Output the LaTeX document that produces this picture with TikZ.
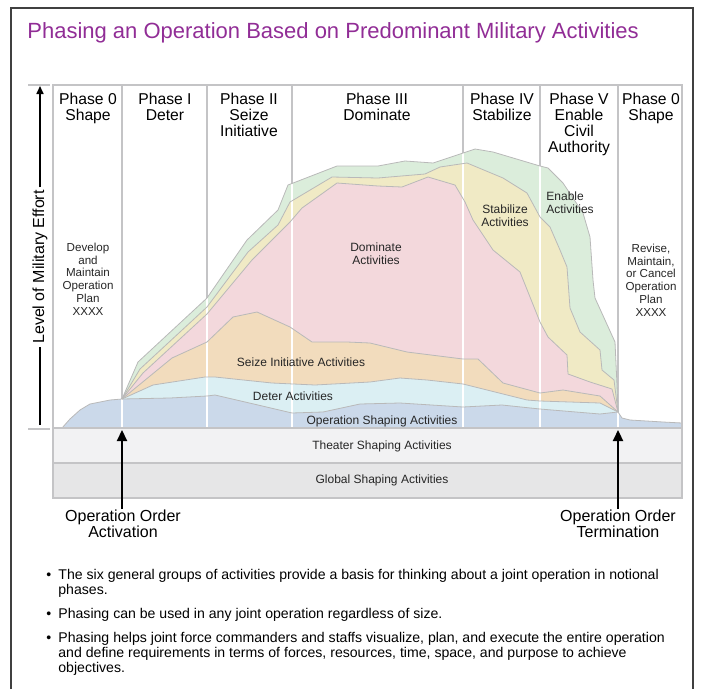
\documentclass[tikz,border=0pt]{standalone}
\usepackage{fontspec}
\setmainfont{Liberation Sans}
\usetikzlibrary{arrows.meta}

\definecolor{titlepurple}{RGB}{145,45,150}
\definecolor{shapec}{RGB}{203,217,234}
\definecolor{deterc}{RGB}{219,239,243}
\definecolor{seizec}{RGB}{242,220,189}
\definecolor{domc}{RGB}{243,216,220}
\definecolor{stabc}{RGB}{240,234,197}
\definecolor{enablec}{RGB}{219,237,219}
\definecolor{theaterc}{RGB}{242,242,243}
\definecolor{globalc}{RGB}{230,230,231}
\definecolor{gridc}{RGB}{196,196,198}
\definecolor{edgec}{RGB}{185,185,185}
\definecolor{framec}{RGB}{64,64,64}

% tops of the activity layers
\newcommand{\enableline}{(122,399) -- (138,362) -- (207,298) -- (247,240) -- (278,210) -- (288,185) -- (337,166) -- (378,166) -- (405,161) -- (433,163) -- (463,153) -- (475,149) -- (493,152) -- (540,166) -- (548,168) -- (563,183) -- (583,213) -- (590,237) -- (593,280) -- (595,298) -- (615,342) -- (617,385) -- (618,412)}
\newcommand{\stabline}{(122,399) -- (140,369) -- (207,307) -- (248,252) -- (278,225) -- (290,202) -- (332,177) -- (378,178) -- (425,174) -- (440,167) -- (467,163) -- (503,178) -- (527,193) -- (540,217) -- (550,227) -- (560,250) -- (567,267) -- (570,308) -- (580,332) -- (600,350) -- (602,370) -- (614,380) -- (618,412)}
\newcommand{\domline}{(122,399) -- (143,373) -- (207,314) -- (252,260) -- (290,222) -- (302,208) -- (337,183) -- (378,186) -- (402,187) -- (428,177) -- (455,185) -- (465,202) -- (473,220) -- (493,250) -- (520,272) -- (540,322) -- (548,337) -- (567,355) -- (568,374) -- (590,382) -- (612,389) -- (618,412)}
\newcommand{\seizeline}{(122,399) -- (172,358) -- (207,342) -- (233,317) -- (257,312) -- (290,327) -- (312,342) -- (347,342) -- (370,343) -- (407,352) -- (463,359) -- (478,359) -- (503,383) -- (540,393) -- (563,390) -- (600,396) -- (618,412)}
\newcommand{\deterline}{(122,399) -- (153,385) -- (205,377) -- (215,377) -- (272,383) -- (315,385) -- (370,382) -- (400,378) -- (427,380) -- (463,384) -- (527,400) -- (540,401) -- (600,403) -- (618,412)}
\newcommand{\shapeline}{(53,428) -- (62,428) -- (70,419) -- (80,410) -- (90,404) -- (110,400) -- (122,399) -- (170,398) -- (207,396) -- (215,395) -- (258,405) -- (292,413) -- (323,412) -- (360,404) -- (400,403) -- (463,407) -- (502,405) -- (540,409) -- (600,414) -- (618,412) -- (622,418) -- (630,420) -- (663,422) -- (682,423)}

\begin{document}
\begin{tikzpicture}[x=1pt, y=-1pt, line width=0.8pt,
    grid/.style={draw=gridc, line width=1.1pt},
    edge/.style={draw=edgec, line width=0.8pt, line join=round},
    phase/.style={anchor=north, inner sep=0pt, align=center, font=\fontsize{15.7}{16}\selectfont},
    lbl/.style={inner sep=0pt, align=center, font=\fontsize{12}{13}\selectfont, text=black!85},
    plan/.style={inner sep=0pt, align=center, font=\fontsize{11.6}{12.8}\selectfont, text=black!85},
    order/.style={anchor=north, inner sep=0pt, align=center, font=\fontsize{16}{16}\selectfont},
    note/.style={anchor=north west, inner sep=0pt, align=left, font=\fontsize{14.1}{15}\selectfont},
    bigarrow/.style={-{Triangle[length=11pt, width=10pt]}, line width=2.3pt}]
  \useasboundingbox (0,0) rectangle (704,689);

  % Frame
  \draw[framec, line width=1.6pt] (11,689) -- (11,8) -- (693,8) -- (693,689);

  % Title
  \node[anchor=west, inner sep=0pt, text=titlepurple, font=\fontsize{22}{24}\selectfont] (title) at (27,33) {Phasing an Operation Based on Predominant Military Activities};

  % Phase columns
  \draw[grid] (53,85) rectangle (682,428);
  \foreach \x in {122,207,292,463,540,618}
    \draw[grid] (\x,85) -- (\x,428);

  % Activity layers, top one first
  \fill[enablec] \enableline -- (618,428) -- (122,428) -- cycle;
  \fill[stabc] \stabline -- (618,428) -- (122,428) -- cycle;
  \fill[domc] \domline -- (618,428) -- (122,428) -- cycle;
  \fill[seizec] \seizeline -- (618,428) -- (122,428) -- cycle;
  \fill[deterc] \deterline -- (618,428) -- (122,428) -- cycle;
  \fill[shapec] \shapeline -- (682,428) -- cycle;

  % Phase lines show white through the layers
  \foreach \x/\y in {122/399, 207/298, 292/184, 463/153, 540/166, 618/412}
    \draw[white, line width=1.2pt] (\x,427) -- (\x,\y);

  % Layer edges
  \draw[edge] \enableline;
  \draw[edge] \stabline;
  \draw[edge] \domline;
  \draw[edge] \seizeline;
  \draw[edge] \deterline;
  \draw[edge] \shapeline;
  \draw[grid] (53,85) rectangle (682,428);

  % Shaping bands
  \draw[grid, fill=theaterc] (53,428) rectangle (682,463);
  \draw[grid, fill=globalc] (53,463) rectangle (682,498);

  % Phase headings
  \node[phase] (ph0) at (88,93) {Phase 0\\Shape};
  \node[phase] (ph1) at (165,93) {Phase I\\Deter};
  \node[phase] (ph2) at (249,93) {Phase II\\Seize\\Initiative};
  \node[phase] (ph3) at (377,93) {Phase III\\Dominate};
  \node[phase] (ph4) at (502,93) {Phase IV\\Stabilize};
  \node[phase] (ph5) at (579,93) {Phase V\\Enable\\Civil\\Authority};
  \node[phase] (ph6) at (651,93) {Phase 0\\Shape};

  % Labels in the layers
  \node[plan] (develop) at (88,279) {Develop\\and\\Maintain\\Operation\\Plan\\XXXX};
  \node[plan] (revise) at (651,280) {Revise,\\Maintain,\\or Cancel\\Operation\\Plan\\XXXX};
  \node[lbl] (dominate) at (376,254) {Dominate\\Activities};
  \node[lbl] (stabilize) at (505,216) {Stabilize\\Activities};
  \node[lbl, anchor=west, align=left] (enable) at (546,203) {Enable\\Activities};
  \node[lbl] (seize) at (301,362) {Seize Initiative Activities};
  \node[lbl] (deter) at (293,396) {Deter Activities};
  \node[lbl] (opshape) at (382,421) {Operation Shaping Activities};
  \node[lbl] (theater) at (382,446) {Theater Shaping Activities};
  \node[lbl] (global) at (382,480) {Global Shaping Activities};

  % Vertical axis
  \draw[gridc, line width=1.1pt] (28,85) -- (50,85);
  \draw[gridc, line width=1.1pt] (28,429) -- (50,429);
  \coordinate (axisbot) at (40,425);
  \coordinate (axistop) at (40,86);
  \node[rotate=90, inner sep=2.5pt, font=\fontsize{16}{16}\selectfont] (effort) at (40,267) {Level of Military Effort};
  \draw[line width=1.6pt] (axisbot) -- (effort.west);
  \draw[-{Triangle[length=8pt, width=7pt]}, line width=1.6pt] (effort.east) -- (axistop);

  % Order arrows
  \node[order] (activation) at (123,509) {Operation Order\\Activation};
  \node[order] (termination) at (618,509) {Operation Order\\Termination};
  \coordinate (acttip) at (122,430);
  \coordinate (termtip) at (618,430);
  \draw[bigarrow] (activation.north -| acttip) -- (acttip);
  \draw[bigarrow] (termination.north -| termtip) -- (termtip);

  % Notes
  \node[note] (b1) at (58,569) {\llap{\textbullet\hspace{7pt}}The six general groups of activities provide a basis for thinking about a joint operation in notional\\phases.};
  \node[note] (b2) at (58,608) {\llap{\textbullet\hspace{7pt}}Phasing can be used in any joint operation regardless of size.};
  \node[note] (b3) at (58,632) {\llap{\textbullet\hspace{7pt}}Phasing helps joint force commanders and staffs visualize, plan, and execute the entire operation\\and define requirements in terms of forces, resources, time, space, and purpose to achieve\\objectives.};
\end{tikzpicture}
\end{document}
